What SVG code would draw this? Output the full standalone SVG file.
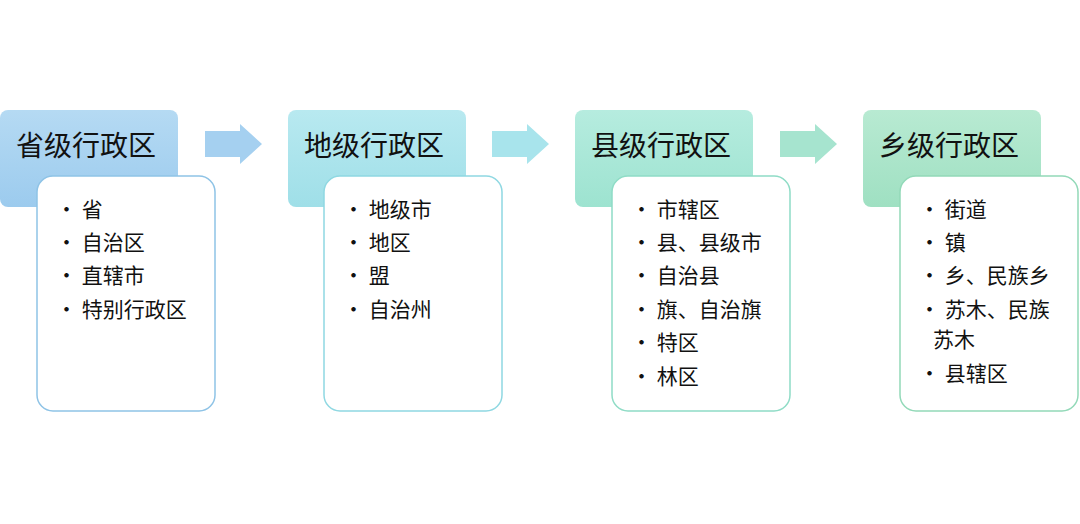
<svg xmlns="http://www.w3.org/2000/svg" width="1080" height="524" viewBox="0 0 1080 524">
<defs>
<linearGradient id="g1" x1="0" y1="0" x2="0" y2="1"><stop offset="0" stop-color="#b5daf3"/><stop offset="1" stop-color="#9ccbee"/></linearGradient>
<linearGradient id="g2" x1="0" y1="0" x2="0" y2="1"><stop offset="0" stop-color="#b8e9f0"/><stop offset="1" stop-color="#9fdfe8"/></linearGradient>
<linearGradient id="g3" x1="0" y1="0" x2="0" y2="1"><stop offset="0" stop-color="#b6ecdf"/><stop offset="1" stop-color="#9de3d0"/></linearGradient>
<linearGradient id="g4" x1="0" y1="0" x2="0" y2="1"><stop offset="0" stop-color="#b8ead2"/><stop offset="1" stop-color="#9fe0c2"/></linearGradient>
</defs>
<style>
text{font-family:"Noto Sans CJK SC","Liberation Sans",sans-serif;fill:#111}
.h{font-size:28px}
.i{font-size:21px}
.d{fill:#fff;stroke-width:1.5}
</style>
<rect width="1080" height="524" fill="#fff"/>
<g id="connectors">
<polygon points="205,131 240,131 240,124 262,144 240,164 240,157 205,157" fill="#a5d0f0"/>
<polygon points="492,131 527,131 527,124 549,144 527,164 527,157 492,157" fill="#a8e4ec"/>
<polygon points="780,131 815,131 815,124 837,144 815,164 815,157 780,157" fill="#a6e4cf"/>
</g>
<g id="n1">
<rect x="0" y="110" width="178" height="97" rx="8" fill="url(#g1)"/>
<text class="h" x="16" y="156">省级行政区</text>
<rect class="d" x="37" y="176" width="178" height="235" rx="16" stroke="#8ec3e6"/>
<text class="i" x="56" y="217">• 省</text>
<text class="i" x="56" y="250">• 自治区</text>
<text class="i" x="56" y="283">• 直辖市</text>
<text class="i" x="56" y="317">• 特别行政区</text>
</g>
<g id="n2">
<rect x="288" y="110" width="178" height="97" rx="8" fill="url(#g2)"/>
<text class="h" x="304" y="156">地级行政区</text>
<rect class="d" x="324" y="176" width="178" height="235" rx="16" stroke="#8fd8e2"/>
<text class="i" x="343" y="217">• 地级市</text>
<text class="i" x="343" y="250">• 地区</text>
<text class="i" x="343" y="283">• 盟</text>
<text class="i" x="343" y="317">• 自治州</text>
</g>
<g id="n3">
<rect x="575" y="110" width="178" height="97" rx="8" fill="url(#g3)"/>
<text class="h" x="591" y="156">县级行政区</text>
<rect class="d" x="612" y="176" width="178" height="235" rx="16" stroke="#8fdcc6"/>
<text class="i" x="631" y="217">• 市辖区</text>
<text class="i" x="631" y="250">• 县、县级市</text>
<text class="i" x="631" y="283">• 自治县</text>
<text class="i" x="631" y="317">• 旗、自治旗</text>
<text class="i" x="631" y="350">• 特区</text>
<text class="i" x="631" y="384">• 林区</text>
</g>
<g id="n4">
<rect x="863" y="110" width="178" height="97" rx="8" fill="url(#g4)"/>
<text class="h" x="879" y="156">乡级行政区</text>
<rect class="d" x="900" y="176" width="178" height="235" rx="16" stroke="#92d9b8"/>
<text class="i" x="919" y="217">• 街道</text>
<text class="i" x="919" y="250">• 镇</text>
<text class="i" x="919" y="283">• 乡、民族乡</text>
<text class="i" x="919" y="317">• 苏木、民族</text>
<text class="i" x="933" y="347">苏木</text>
<text class="i" x="919" y="381">• 县辖区</text>
</g>
</svg>
